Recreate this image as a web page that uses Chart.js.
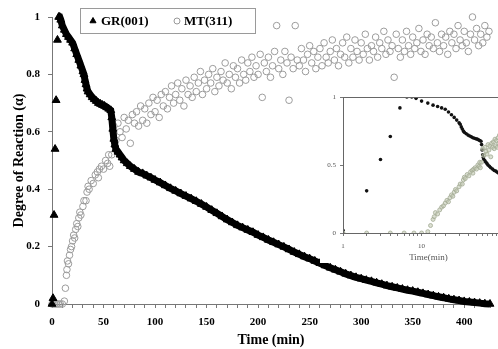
<!DOCTYPE html>
<html>
<head>
<meta charset="utf-8">
<script src="https://cdn.jsdelivr.net/npm/chart.js@4.4.0/dist/chart.umd.min.js"></script>
<style>
html, body { margin: 0; padding: 0; background: #fff; overflow: hidden; }
#wrap { position: relative; width: 498px; height: 349px; overflow: hidden; }
#main { position: absolute; left: 0; top: 0; }
#inset { position: absolute; left: 320px; top: 88px; }
</style>
</head>
<body>
<div id="wrap">
  <canvas id="main" width="498" height="349"></canvas>
  <canvas id="inset" width="200" height="175"></canvas>
</div>
<script>
// series names and axis titles
const seriesNames = ['GR(001)', 'MT(311)'];
const xTitle = 'Time (min)';
const yTitle = 'Degree of Reaction (\u03b1)';
const insetXTitle = 'Time(min)';

// GR(001)
const grTime = [0, 1, 2, 3, 4, 5.3, 6.5, 7.5, 8.5, 10, 12, 14, 16, 18, 20, 22, 24, 26, 28, 30,
  31, 32, 33, 34, 35, 37, 39, 41, 43, 45, 47, 49, 51, 53, 55, 57, 58, 59, 60, 61,
  62, 64, 66, 68, 70, 73, 76, 80, 84, 88, 92, 96,
  100, 105, 110, 115, 120, 125, 130, 135, 140, 145, 150, 155, 160, 165, 170, 175, 180, 185,
  190, 195, 200, 205, 210, 215, 220, 225, 230, 235, 240, 245, 250, 255, 260, 265, 270, 275,
  280, 285, 290, 295, 300, 305, 310, 315, 320, 325, 330, 335, 340, 345, 350, 355, 360, 365,
  370, 375, 380, 385, 390, 395, 400, 405, 410, 415, 420, 425];
const grValue = [0, 0.02, 0.31, 0.54, 0.71, 0.92, 1.0, 1.0, 0.99, 0.97, 0.955, 0.94, 0.93, 0.92, 0.91, 0.89, 0.87, 0.85, 0.83, 0.81,
  0.80, 0.78, 0.765, 0.75, 0.74, 0.73, 0.72, 0.713, 0.707, 0.70, 0.697, 0.693, 0.69, 0.685, 0.68, 0.675, 0.65, 0.61, 0.575, 0.555,
  0.54, 0.53, 0.52, 0.51, 0.50, 0.49, 0.48, 0.47, 0.46, 0.455, 0.447, 0.44,
  0.432, 0.423, 0.413, 0.403, 0.394, 0.385, 0.376, 0.367, 0.358, 0.348, 0.338, 0.327, 0.316, 0.305, 0.294, 0.284, 0.274, 0.266,
  0.258, 0.25, 0.24, 0.232, 0.223, 0.215, 0.207, 0.199, 0.19, 0.181, 0.173, 0.165, 0.158, 0.15, 0.142, 0.134, 0.126, 0.119,
  0.112, 0.105, 0.099, 0.093, 0.088, 0.083, 0.079, 0.074, 0.069, 0.064, 0.06, 0.056, 0.052, 0.048, 0.045, 0.041, 0.037, 0.033,
  0.029, 0.025, 0.022, 0.018, 0.015, 0.012, 0.009, 0.007, 0.005, 0.003, 0.001, 0];

// MT(311)
const mtTime = [0, 2, 4, 6, 8, 10, 12, 13, 14, 14.5, 15, 16, 17, 18, 19, 20, 21, 22, 23, 24,
  25, 26, 27, 28, 30, 31, 33, 34, 35, 36, 38, 40, 42, 44, 45, 46, 48, 50, 52, 54, 55, 56, 58,
  60, 62, 64, 66, 68, 70, 72, 74, 76, 78, 80, 82, 84, 86, 88, 90, 92, 94, 96, 98,
  100, 102, 104, 106, 108, 110, 112, 114, 116, 118, 120, 122, 124, 126, 128, 130, 132, 134, 136, 138,
  140, 142, 144, 146, 148, 150, 152, 154, 156, 158, 160, 162, 164, 166, 168, 170, 172, 174, 176, 178,
  180, 182, 184, 186, 188, 190, 192, 194, 196, 198, 200, 202, 204, 206, 208, 210, 212, 214, 216, 218,
  220, 222, 224, 226, 228, 230, 232, 234, 236, 238, 240, 242, 244, 246, 248, 250, 252, 254, 256, 258,
  260, 262, 264, 266, 268, 270, 272, 274, 276, 278, 280, 282, 284, 286, 288, 290, 292, 294, 296, 298,
  300, 302, 304, 306, 308, 310, 312, 314, 316, 318, 320, 322, 324, 326, 328, 330, 332, 334, 336, 338,
  340, 342, 344, 346, 348, 350, 352, 354, 356, 358, 360, 362, 364, 366, 368, 370, 372, 374, 376, 378,
  380, 382, 384, 386, 388, 390, 392, 394, 396, 398, 400, 402, 404, 406, 408, 410, 412, 414, 416, 418,
  420, 422, 424];
const mtValue = [0, 0, 0, 0, 0, 0, 0.01, 0.055, 0.10, 0.12, 0.15, 0.14, 0.17, 0.19, 0.20, 0.22, 0.24, 0.23, 0.26, 0.28,
  0.27, 0.30, 0.32, 0.31, 0.34, 0.36, 0.36, 0.39, 0.41, 0.40, 0.43, 0.42, 0.45, 0.46, 0.44, 0.47, 0.48, 0.47, 0.50, 0.49, 0.52, 0.48, 0.52,
  0.62, 0.57, 0.63, 0.60, 0.58, 0.65, 0.61, 0.64, 0.56, 0.66, 0.63, 0.67, 0.62, 0.69, 0.64, 0.68, 0.63, 0.70, 0.66, 0.72,
  0.67, 0.71, 0.65, 0.73, 0.69, 0.74, 0.68, 0.72, 0.76, 0.70, 0.73, 0.77, 0.71, 0.75, 0.69, 0.78, 0.73, 0.76, 0.72, 0.79,
  0.74, 0.77, 0.81, 0.73, 0.78, 0.75, 0.80, 0.77, 0.82, 0.74, 0.79, 0.76, 0.81, 0.78, 0.84, 0.77, 0.80, 0.75, 0.83, 0.79,
  0.82, 0.77, 0.85, 0.80, 0.78, 0.84, 0.81, 0.86, 0.79, 0.83, 0.80, 0.87, 0.72, 0.84, 0.81, 0.86, 0.79, 0.83, 0.88, 0.97,
  0.82, 0.85, 0.80, 0.88, 0.84, 0.71, 0.86, 0.82, 0.97, 0.85, 0.83, 0.89, 0.85, 0.81, 0.87, 0.90, 0.84, 0.88, 0.82, 0.86,
  0.89, 0.83, 0.91, 0.86, 0.84, 0.88, 0.92, 0.85, 0.89, 0.83, 0.87, 0.91, 0.86, 0.93, 0.84, 0.89, 0.86, 0.92, 0.88, 0.85,
  0.91, 0.87, 0.94, 0.89, 0.85, 0.90, 0.88, 0.93, 0.86, 0.91, 0.89, 0.95, 0.87, 0.92, 0.88, 0.90, 0.79, 0.94, 0.89, 0.86,
  0.92, 0.88, 0.95, 0.90, 0.87, 0.93, 0.89, 0.91, 0.96, 0.88, 0.92, 0.87, 0.94, 0.90, 0.93, 0.89, 0.98, 0.91, 0.88, 0.94,
  0.90, 0.93, 0.87, 0.95, 0.91, 0.94, 0.89, 0.97, 0.92, 0.90, 0.95, 0.91, 0.88, 0.94, 1.0, 0.92, 0.96, 0.90, 0.94, 0.91,
  0.97, 0.93, 0.95];

const serif = "'Liberation Serif', 'Times New Roman', serif";
Chart.defaults.font.family = serif;
Chart.defaults.color = '#000';

function pts(xs, ys) {
  return xs.map((x, i) => ({ x: x, y: ys[i] }));
}
function decimalLabel(v) {
  return String(Number(v.toFixed(1)));
}

// legend with a thin frame, drawn over the plot like in the figure
const legendBox = {
  id: 'legendBox',
  afterDraw(chart) {
    const ctx = chart.ctx;
    ctx.save();
    ctx.fillStyle = '#fff';
    ctx.fillRect(80, 8, 175, 25);
    ctx.strokeStyle = '#9a9a9a';
    ctx.lineWidth = 1;
    ctx.strokeRect(80.5, 8.5, 175, 25);
    ctx.fillStyle = '#000';
    ctx.strokeStyle = '#000';
    Chart.helpers.drawPoint(ctx, { pointStyle: 'triangle', radius: 3.5, borderWidth: 1 }, 93, 21);
    ctx.font = 'bold 13px ' + serif;
    ctx.textBaseline = 'middle';
    ctx.fillText(seriesNames[0], 101, 21.5);
    ctx.strokeStyle = '#999';
    ctx.beginPath();
    ctx.arc(177, 21, 3, 0, Math.PI * 2);
    ctx.stroke();
    ctx.fillText(seriesNames[1], 184, 21.5);
    ctx.restore();
  }
};

new Chart(document.getElementById('main'), {
  type: 'scatter',
  data: {
    datasets: [
      {
        label: seriesNames[1],
        data: pts(mtTime, mtValue),
        pointStyle: 'circle',
        pointRadius: 3.3,
        pointBorderWidth: 1,
        pointBorderColor: '#9c9c9c',
        pointBackgroundColor: 'rgba(255,255,255,0)',
        clip: false,
        order: 2
      },
      {
        label: seriesNames[0],
        data: pts(grTime, grValue),
        pointStyle: 'triangle',
        pointRadius: 4.5,
        pointBorderWidth: 1,
        pointBorderColor: '#000',
        pointBackgroundColor: '#000',
        showLine: true,
        borderColor: '#000',
        borderWidth: 7,
        segment: {
          borderColor: c => c.p0DataIndex < 6 ? 'rgba(0,0,0,0)' : '#000'
        },
        clip: false,
        order: 1
      }
    ]
  },
  options: {
    responsive: false,
    animation: false,
    layout: { padding: { top: 17, right: 0, left: 0, bottom: 0 } },
    plugins: { legend: { display: false }, tooltip: { enabled: false } },
    scales: {
      x: {
        type: 'linear',
        min: 0,
        max: 425,
        afterFit: s => { s.height = 45; },
        ticks: {
          stepSize: 10,
          autoSkip: false,
          maxRotation: 0,
          padding: 8,
          font: { size: 11, weight: 'bold' },
          callback: v => v % 50 === 0 ? String(v) : ''
        },
        grid: { drawOnChartArea: false, tickLength: 4, color: '#777' },
        border: { color: '#777' },
        title: { display: true, text: xTitle, font: { size: 14, weight: 'bold' }, padding: 0 }
      },
      y: {
        min: 0,
        max: 1,
        afterFit: s => { s.width = 52; },
        ticks: {
          stepSize: 0.2,
          padding: 8,
          font: { size: 11, weight: 'bold' },
          callback: v => decimalLabel(v)
        },
        grid: { drawOnChartArea: false, tickLength: 4, color: '#777' },
        border: { color: '#777' },
        title: { display: true, text: yTitle, font: { size: 14, weight: 'bold' }, padding: 11 }
      }
    }
  },
  plugins: [legendBox]
});

// inset: white panel with a frame, log time axis
const insetFrame = {
  id: 'insetFrame',
  beforeDraw(chart) {
    const ctx = chart.ctx;
    ctx.save();
    ctx.fillStyle = '#fff';
    ctx.fillRect(0, 0, chart.width, chart.height);
    ctx.restore();
  },
  afterDraw(chart) {
    const a = chart.chartArea;
    const ctx = chart.ctx;
    ctx.save();
    ctx.strokeStyle = '#666';
    ctx.lineWidth = 1;
    ctx.strokeRect(Math.round(a.left) + 0.5, Math.round(a.top) + 0.5, a.right - a.left, a.bottom - a.top);
    ctx.restore();
  }
};

new Chart(document.getElementById('inset'), {
  type: 'scatter',
  data: {
    datasets: [
      {
        data: pts(mtTime, mtValue),
        pointStyle: 'circle',
        pointRadius: 2,
        pointBorderWidth: 0.8,
        pointBorderColor: '#a3ab94',
        pointBackgroundColor: 'rgba(195,202,180,0.6)'
      },
      {
        data: pts(grTime, grValue),
        pointStyle: 'circle',
        pointRadius: 1.8,
        pointBorderWidth: 0,
        pointBackgroundColor: '#111'
      }
    ]
  },
  options: {
    responsive: false,
    animation: false,
    layout: { padding: { top: 9, right: 5, left: 0, bottom: 0 } },
    plugins: { legend: { display: false }, tooltip: { enabled: false } },
    scales: {
      x: {
        type: 'logarithmic',
        min: 1,
        max: 150,
        afterFit: s => { s.height = 30; },
        ticks: {
          autoSkip: false,
          maxRotation: 0,
          padding: 6,
          font: { size: 7 },
          color: '#555',
          callback: v => (v === 1 || v === 10) ? String(v) : ''
        },
        grid: { drawOnChartArea: false, tickLength: 3, color: '#777' },
        border: { color: '#666' },
        title: { display: true, text: insetXTitle, font: { size: 9 }, color: '#555', padding: 0 }
      },
      y: {
        min: 0,
        max: 1,
        afterFit: s => { s.width = 23; },
        ticks: {
          stepSize: 0.5,
          padding: 4,
          font: { size: 7 },
          color: '#555',
          callback: v => decimalLabel(v)
        },
        grid: { drawOnChartArea: false, tickLength: 3, color: '#777' },
        border: { color: '#666' }
      }
    }
  },
  plugins: [insetFrame]
});
</script>
</body>
</html>
